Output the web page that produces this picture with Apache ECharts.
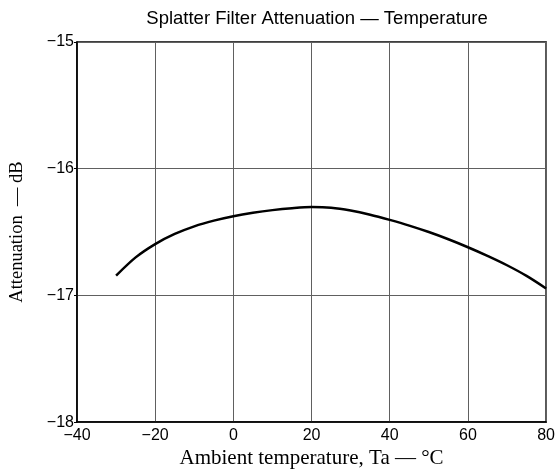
<!DOCTYPE html>
<html><head><meta charset="utf-8">
<script src="https://cdn.jsdelivr.net/npm/echarts@6/dist/echarts.min.js"></script>
<style>html,body{margin:0;padding:0;background:#fff}#c{width:558px;height:474px}</style>
</head><body><div id="c"></div>
<script>
const temps = [-30, -25, -20, -15, -10, -5, 0, 5, 10, 15, 20, 25, 30, 35, 40, 45, 50, 55, 60, 65, 70, 75, 80];
const atten = [-16.844, -16.70, -16.595, -16.515, -16.455, -16.41, -16.375, -16.348, -16.327, -16.312, -16.303, -16.308, -16.33, -16.363, -16.404, -16.449, -16.50, -16.557, -16.62, -16.688, -16.762, -16.846, -16.945];
const xTicks = [-40, -20, 0, 20, 40, 60, 80];
const yTicks = [-18, -17, -16, -15];
const titleText = 'Splatter Filter Attenuation \u2014 Temperature';
const xName = 'Ambient temperature, Ta \u2014 \u00B0C';
const yName = 'Attenuation  \u2014 dB';

const minus = v => String(v).replace('-', '\u2212');
const chart = echarts.init(document.getElementById('c'), null, {renderer: 'canvas'});
chart.setOption({
  animation: false,
  backgroundColor: '#fff',
  title: {text: titleText, left: 312, textAlign: 'center', top: 4, textStyle: {fontFamily: 'Liberation Sans', fontSize: 18.5, fontWeight: 'normal', color: '#000'}},
  grid: {left: 75, right: 9.5, top: 42, bottom: 50, show: true, borderColor: '#000', borderWidth: 1.5, backgroundColor: 'transparent'},
  xAxis: {
    type: 'value', min: xTicks[0], max: xTicks[xTicks.length - 1], interval: 20,
    name: xName, nameLocation: 'middle', nameGap: 24,
    nameTextStyle: {fontFamily: 'Liberation Serif', fontSize: 21, color: '#000'},
    axisLine: {show: true, onZero: false, lineStyle: {color: '#000', width: 1.5}},
    axisTick: {show: false},
    axisLabel: {formatter: minus, fontFamily: 'Liberation Sans', fontSize: 16, color: '#000', margin: 5},
    splitLine: {show: true, lineStyle: {color: '#606060', width: 1}}
  },
  yAxis: {
    type: 'value', min: yTicks[0], max: yTicks[yTicks.length - 1], interval: 1,
    name: yName, nameLocation: 'middle', nameGap: 50,
    nameTextStyle: {fontFamily: 'Liberation Serif', fontSize: 18.5, color: '#000'},
    axisLine: {show: true, onZero: false, lineStyle: {color: '#000', width: 1.5}},
    axisTick: {show: true, length: 3, lineStyle: {color: '#000'}},
    axisLabel: {formatter: minus, fontFamily: 'Liberation Sans', fontSize: 16, color: '#000', margin: 3},
    splitLine: {show: true, lineStyle: {color: '#606060', width: 1}}
  },
  series: [{
    type: 'line', data: temps.map((t, i) => [t, atten[i]]), smooth: 0.3, showSymbol: false,
    lineStyle: {color: '#000', width: 2.5}
  }]
});
</script></body></html>
